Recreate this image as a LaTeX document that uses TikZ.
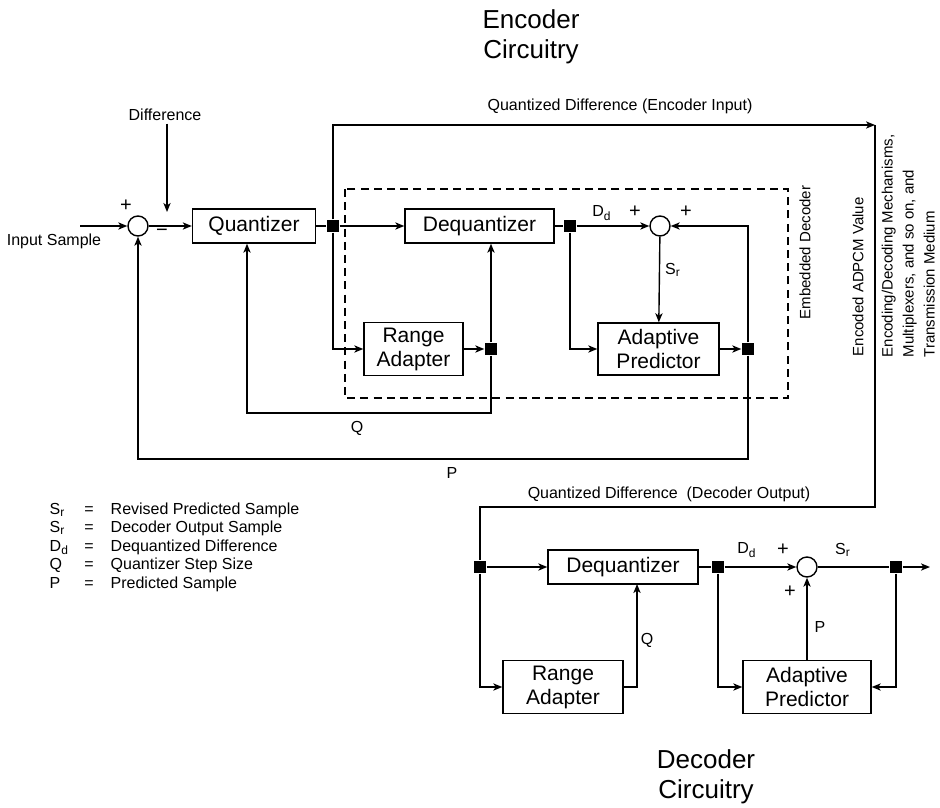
\documentclass[tikz,border=0pt]{standalone}
\usepackage{fontspec}
\setmainfont{Liberation Sans}
\usetikzlibrary{arrows.meta}

\tikzset{
  blk/.style={draw, inner sep=0pt, align=center, font=\fontsize{10.5}{12}\selectfont},
  jn/.style={fill, inner sep=0pt, minimum size=6pt},
  sumc/.style={circle, draw, inner sep=0pt, minimum size=10pt},
  lbl/.style={inner sep=1pt, font=\fontsize{8}{9.6}\selectfont},
  sgn/.style={inner sep=0pt, font=\fontsize{10}{12}\selectfont},
  ttl/.style={align=center, font=\fontsize{13}{15}\selectfont},
}

\begin{document}
\begin{tikzpicture}[>={Stealth[length=4.5pt,width=3.6pt,inset=1.2pt]},x=0.5pt,y=-0.5pt,line width=0.7pt]
\useasboundingbox (0,0) rectangle (940,807);
% encoder
\node[ttl] (enctitle) at (531,37) {Encoder\\Circuitry};
\node[sumc] (sum1) at (138,226) {};
\node[blk,minimum width=61.5pt,minimum height=17pt] (quant) at (254,226) {Quantizer};
\node[jn] (jq) at (333,226) {};
\node[blk,minimum width=74.5pt,minimum height=17pt] (deq) at (479.5,226) {Dequantizer};
\node[jn] (jd) at (570,226) {};
\node[sumc] (sum2) at (660,226) {};
\node[blk,minimum width=49.5pt,minimum height=26.5pt] (ra) at (413.5,349) {Range\\Adapter};
\node[jn] (jr) at (491,349) {};
\node[blk,minimum width=60.5pt,minimum height=26pt] (ap) at (658.5,349) {Adaptive\\Predictor};
\node[jn] (jp) at (748,349) {};
\draw[line width=0.6pt,dash pattern=on 4pt off 2.6pt] (345,189) rectangle (788,398);

\coordinate (in) at (80,226);
\coordinate (diffend) at (167,212);
\coordinate (topR) at (875,125);
\coordinate (qc) at (247,413);
\coordinate (pc) at (138,459);
\node[lbl] (inlbl) at (54,241) {Input Sample};
\node[lbl] (difflbl) at (165,115) {Difference};
\node[sgn] (p1) at (126,206) {+};
\node[sgn] (m1) at (162,233) {−};
\node[lbl] (qdenc) at (620,106) {Quantized Difference (Encoder Input)};
\node[lbl] (dd1) at (602,213) {D\textsubscript{d}};
\node[sgn] (p2) at (635,212) {+};
\node[sgn] (p3) at (686,212) {+};
\node[lbl] (sr1) at (673,270) {S\textsubscript{r}};
\node[lbl] (q1) at (357,428) {Q};
\node[lbl] (pl1) at (452,473) {P};
\node[lbl,rotate=90,anchor=west,font=\fontsize{7.5}{9}\selectfont] (embl) at (805,322) {Embedded Decoder};
\node[lbl,rotate=90,anchor=west,font=\fontsize{7.5}{9}\selectfont] (adpcm) at (858,359) {Encoded ADPCM Value};
\node[rotate=90,anchor=north west,align=left,inner sep=0pt,font=\fontsize{7.5}{10.5}\selectfont] (medium) at (881,358) {Encoding/Decoding Mechanisms,\\Multiplexers, and so on, and\\Transmission Medium};

\draw[->] (in) -- (sum1);
\draw[->] (difflbl.south -| diffend) -- (diffend);
\draw[->] (sum1) -- (quant);
\draw (quant) -- (jq);
\draw[->] (jq) -- (deq);
\draw[->] (jq) |- (topR);
\draw[->] (jq) |- (ra.west);
\draw[->] (ra) -- (jr);
\draw[->] (jr) -- (jr |- deq.south);
\draw[->] (jr) |- (qc) -- (qc |- quant.south);
\draw (deq) -- (jd);
\draw[->] (jd) -- (sum2);
\draw[->] (jd) |- (ap.west);
\draw[->] (sum2) -- (ap);
\draw[->] (ap) -- (jp);
\draw[->] (jp) |- (sum2.east);
\draw[->] (jp) |- (pc) -- (sum1);

% decoder
\coordinate (decL) at (480,507);
\coordinate (dqx) at (637,584);
\coordinate (out) at (930,567);
\node[jn] (jd1) at (480,567) {};
\node[blk,minimum width=75pt,minimum height=17pt] (ddeq) at (623,567) {Dequantizer};
\node[blk,minimum width=60pt,minimum height=26.5pt] (dra) at (563,687) {Range\\Adapter};
\node[jn] (djd) at (718,567) {};
\node[sumc] (dsum) at (807,567) {};
\node[jn] (djo) at (896,567) {};
\node[blk,minimum width=64pt,minimum height=26.5pt] (dap) at (807,687) {Adaptive\\Predictor};
\node[lbl] (qddec) at (669,494) {Quantized Difference \ (Decoder Output)};
\node[lbl] (dd2) at (747,550) {D\textsubscript{d}};
\node[sgn] (p4) at (783,550) {+};
\node[lbl] (sr2) at (843,550) {S\textsubscript{r}};
\node[sgn] (p5) at (790,592) {+};
\node[lbl] (pl2) at (820,627) {P};
\node[lbl] (q2) at (647,640) {Q};
\node[ttl] (dectitle) at (706,777) {Decoder\\Circuitry};

\draw (topR) |- (decL) -- (jd1);
\draw[->] (jd1) -- (ddeq);
\draw[->] (jd1) |- (dra.west);
\draw[->] (dra.east) -| (dqx);
\draw (ddeq) -- (djd);
\draw[->] (djd) -- (dsum);
\draw (dsum) -- (djo);
\draw[->] (djo) -- (out);
\draw[->] (djd) |- (dap.west);
\draw[->] (djo) |- (dap.east);
\draw[->] (dap) -- (dsum);

% legend
\foreach \sym/\txt [count=\i] in {{S\textsubscript{r}}/{Revised Predicted Sample},{S\textsubscript{r}}/{Decoder Output Sample},{D\textsubscript{d}}/{Dequantized Difference},{Q}/{Quantizer Step Size},{P}/{Predicted Sample}}
{
  \node[lbl,anchor=base west] (lsym\i) at (47,495.4+18.6*\i) {\sym};
  \node[lbl,anchor=base] (leq\i) at (89,495.4+18.6*\i) {=};
  \node[lbl,anchor=base west] (ltxt\i) at (108,495.4+18.6*\i) {\txt};
}
\end{tikzpicture}
\end{document}
